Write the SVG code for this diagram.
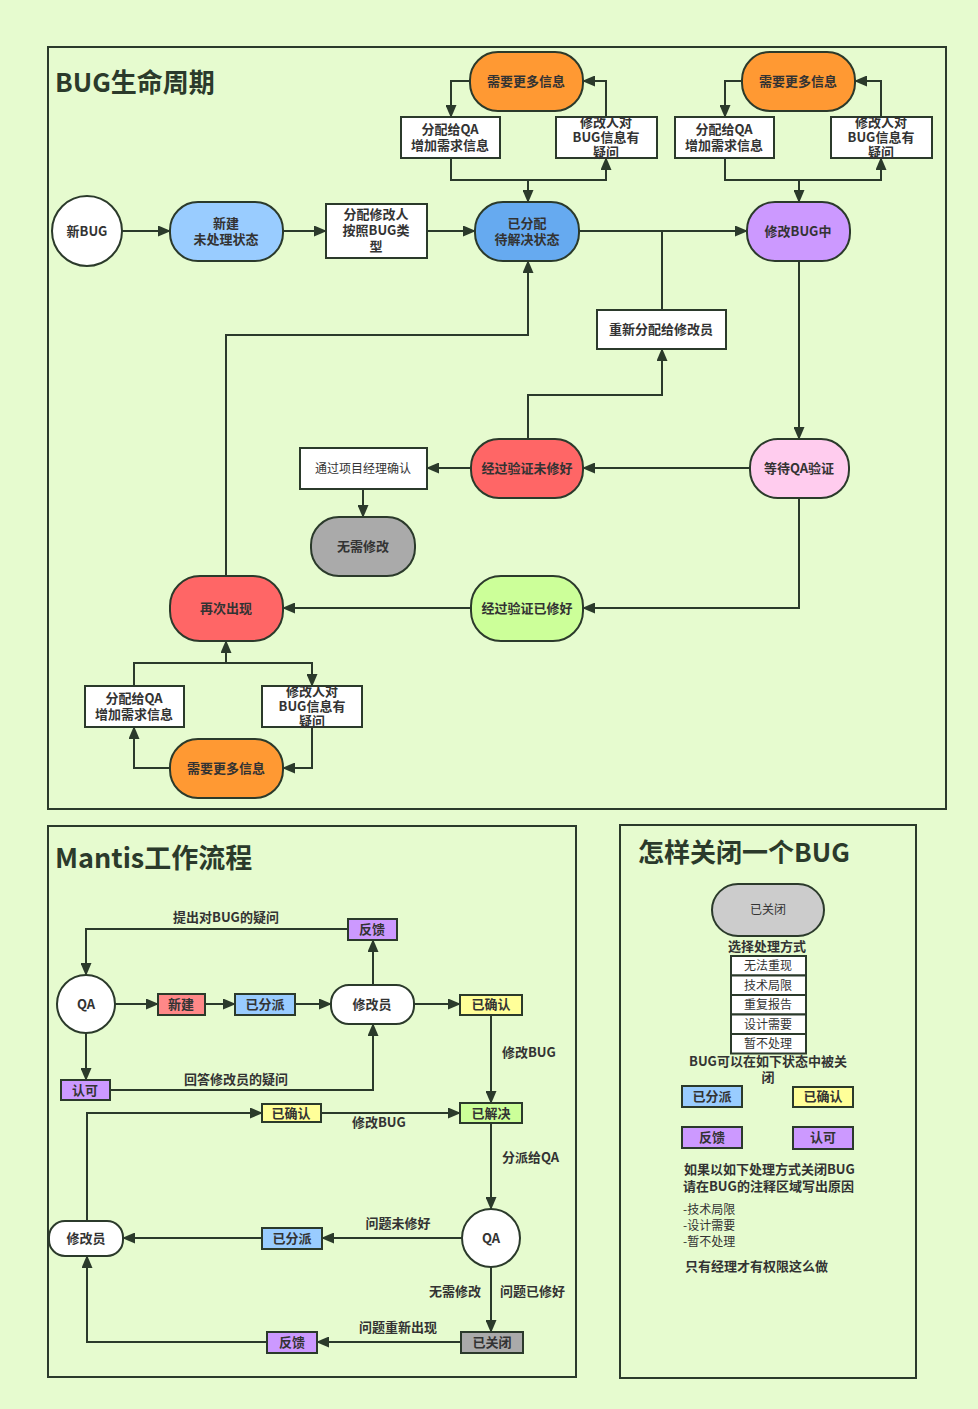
<svg xmlns="http://www.w3.org/2000/svg" width="978" height="1409" viewBox="0 0 978 1409">
<defs>
<marker id="ah" markerUnits="userSpaceOnUse" markerWidth="13" markerHeight="11" refX="12" refY="5.5" orient="auto">
<path d="M0,0 L13,5.5 L0,11 z" fill="#2b3a2b"/>
</marker>
<style>
text{font-family:"Noto Sans CJK SC","Noto Sans",sans-serif;fill:#333;}
.t{font-size:13px;font-weight:bold;text-anchor:middle;}
.n{font-size:12px;text-anchor:middle;}
.title{font-size:26px;font-weight:bold;fill:#2b3a2b;}
.frame{fill:none;stroke:#2b3a2b;stroke-width:2;}
.nd{stroke:#2b3a2b;stroke-width:2;}
.c{fill:none;stroke:#2b3a2b;stroke-width:2;}
.ca{fill:none;stroke:#2b3a2b;stroke-width:2;marker-end:url(#ah);}
.lbl{font-size:13px;font-weight:bold;}
</style>
</defs>
<rect width="978" height="1409" fill="#e6fbcf"/>
<rect class="frame" x="48" y="47" width="898" height="762"/>
<rect class="frame" x="48" y="826" width="528" height="551"/>
<rect class="frame" x="620" y="825" width="296" height="553"/>
<text class="title" x="55" y="92">BUG生命周期</text>
<text class="title" x="55" y="868" style="font-size:27px">Mantis工作流程</text>
<text class="title" x="638" y="862">怎样关闭一个BUG</text>

<g id="connectors">
<line class="ca" x1="122" y1="231" x2="170" y2="231"/>
<line class="ca" x1="283" y1="231" x2="326" y2="231"/>
<line class="ca" x1="427" y1="231" x2="475" y2="231"/>
<line class="ca" x1="579" y1="231" x2="747" y2="231"/>
<line class="c" x1="662" y1="310" x2="662" y2="231"/>
<line class="ca" x1="799" y1="261" x2="799" y2="439"/>
<line class="ca" x1="750" y1="468" x2="583" y2="468"/>
<polyline class="ca" points="528,439 528,395 662,395 662,349"/>
<line class="ca" x1="471" y1="468" x2="427" y2="468"/>
<line class="ca" x1="363" y1="489" x2="363" y2="517"/>
<polyline class="ca" points="799,498 799,608 583,608"/>
<line class="ca" x1="471" y1="608" x2="283" y2="608"/>
<polyline class="ca" points="226,576 226,335 528,335 528,261"/>
<polyline class="ca" points="470,81 451,81 451,117"/>
<polyline class="ca" points="451,158 451,180 528,180 528,202"/>
<polyline class="ca" points="528,202 528,180 606,180 606,158"/>
<polyline class="ca" points="606,117 606,81 583,81"/>
<polyline class="ca" points="742,81 725,81 725,117"/>
<polyline class="ca" points="725,158 725,180 799,180 799,202"/>
<polyline class="ca" points="799,202 799,180 881,180 881,158"/>
<polyline class="ca" points="881,117 881,81 855,81"/>
<polyline class="ca" points="134,686 134,663 226,663 226,641"/>
<polyline class="ca" points="226,641 226,663 312,663 312,686"/>
<polyline class="ca" points="312,727 312,768 283,768"/>
<polyline class="ca" points="170,768 134,768 134,727"/>

<line class="ca" x1="115" y1="1004" x2="158" y2="1004"/>
<line class="ca" x1="205" y1="1004" x2="235" y2="1004"/>
<line class="ca" x1="295" y1="1004" x2="331" y2="1004"/>
<line class="ca" x1="414" y1="1004" x2="460" y2="1004"/>
<line class="ca" x1="373" y1="985" x2="373" y2="940"/>
<polyline class="ca" points="348,929 86,929 86,975"/>
<line class="ca" x1="86" y1="1033" x2="86" y2="1080"/>
<polyline class="ca" points="110,1090 373,1090 373,1024"/>
<line class="ca" x1="491" y1="1015" x2="491" y2="1103"/>
<polyline class="ca" points="87,1221 87,1113 262,1113"/>
<line class="ca" x1="321" y1="1113" x2="460" y2="1113"/>
<line class="ca" x1="491" y1="1123" x2="491" y2="1209"/>
<line class="ca" x1="462" y1="1238" x2="322" y2="1238"/>
<line class="ca" x1="262" y1="1238" x2="123" y2="1238"/>
<line class="ca" x1="491" y1="1267" x2="491" y2="1332"/>
<line class="ca" x1="461" y1="1342" x2="317" y2="1342"/>
<polyline class="ca" points="267,1342 87,1342 87,1256"/>
</g>

<g id="newbug"><circle class="nd" cx="87" cy="231" r="35" fill="#fff"/><text class="t" x="87" y="236">新BUG</text></g>
<g id="xinjian"><rect class="nd" x="170" y="202" width="113" height="59" rx="28" fill="#99ccff"/><text class="t" x="226" y="228">新建</text><text class="t" x="226" y="244">未处理状态</text></g>
<g id="fenpei"><rect class="nd" x="326" y="204" width="101" height="54" fill="#fff"/><text class="t" x="376" y="219">分配修改人</text><text class="t" x="376" y="235">按照BUG类</text><text class="t" x="376" y="251">型</text></g>
<g id="yifenpei"><rect class="nd" x="475" y="202" width="104" height="59" rx="28" fill="#66aaf0"/><text class="t" x="527" y="228">已分配</text><text class="t" x="527" y="244">待解决状态</text></g>
<g id="xiugaibug"><rect class="nd" x="747" y="202" width="103" height="59" rx="28" fill="#cc99ff"/><text class="t" x="798" y="236">修改BUG中</text></g>
<g id="more1"><rect class="nd" x="470" y="52" width="113" height="59" rx="28" fill="#ff9933"/><text class="t" x="526" y="86">需要更多信息</text></g>
<g id="qa1"><rect class="nd" x="401" y="117" width="99" height="41" fill="#fff"/><text class="t" x="450" y="134">分配给QA</text><text class="t" x="450" y="150">增加需求信息</text></g>
<g id="q1"><rect class="nd" x="556" y="117" width="101" height="41" fill="#fff"/><text class="t" x="606" y="127">修改人对</text><text class="t" x="606" y="142">BUG信息有</text><text class="t" x="606" y="157">疑问</text></g>
<g id="more2"><rect class="nd" x="742" y="52" width="113" height="59" rx="28" fill="#ff9933"/><text class="t" x="798" y="86">需要更多信息</text></g>
<g id="qa2"><rect class="nd" x="675" y="117" width="99" height="41" fill="#fff"/><text class="t" x="724" y="134">分配给QA</text><text class="t" x="724" y="150">增加需求信息</text></g>
<g id="q2"><rect class="nd" x="831" y="117" width="101" height="41" fill="#fff"/><text class="t" x="881" y="127">修改人对</text><text class="t" x="881" y="142">BUG信息有</text><text class="t" x="881" y="157">疑问</text></g>
<g id="chongxin"><rect class="nd" x="597" y="310" width="129" height="39" fill="#fff"/><text class="t" x="661" y="334">重新分配给修改员</text></g>
<g id="dengdai"><rect class="nd" x="750" y="439" width="99" height="59" rx="28" fill="#ffccee"/><text class="t" x="799" y="473">等待QA验证</text></g>
<g id="weixiu"><rect class="nd" x="471" y="439" width="112" height="59" rx="28" fill="#ff6666"/><text class="t" x="527" y="473">经过验证未修好</text></g>
<g id="jingli"><rect class="nd" x="300" y="448" width="127" height="41" fill="#fff"/><text class="n" x="363" y="473">通过项目经理确认</text></g>
<g id="wuxu"><rect class="nd" x="311" y="517" width="104" height="59" rx="28" fill="#aaaaaa"/><text class="t" x="363" y="551">无需修改</text></g>
<g id="zaici"><rect class="nd" x="170" y="576" width="113" height="65" rx="30" fill="#ff6666"/><text class="t" x="226" y="613">再次出现</text></g>
<g id="yixiu"><rect class="nd" x="471" y="576" width="112" height="65" rx="30" fill="#ccff99"/><text class="t" x="527" y="613">经过验证已修好</text></g>
<g id="qa3"><rect class="nd" x="85" y="686" width="99" height="41" fill="#fff"/><text class="t" x="134" y="703">分配给QA</text><text class="t" x="134" y="719">增加需求信息</text></g>
<g id="q3"><rect class="nd" x="262" y="686" width="100" height="41" fill="#fff"/><text class="t" x="312" y="696">修改人对</text><text class="t" x="312" y="711">BUG信息有</text><text class="t" x="312" y="726">疑问</text></g>
<g id="more3"><rect class="nd" x="170" y="739" width="113" height="59" rx="28" fill="#ff9933"/><text class="t" x="226" y="773">需要更多信息</text></g>

<g id="m-qa"><circle class="nd" cx="86" cy="1004" r="29" fill="#fff"/><text class="t" x="86" y="1009">QA</text></g>
<g id="m-new"><rect class="nd" x="158" y="994" width="47" height="21" fill="#ff8888"/><text class="t" x="181" y="1009">新建</text></g>
<g id="m-assigned"><rect class="nd" x="235" y="994" width="60" height="21" fill="#99ccff"/><text class="t" x="265" y="1009">已分派</text></g>
<g id="m-dev"><rect class="nd" x="331" y="985" width="83" height="39" rx="18" fill="#fff"/><text class="t" x="372" y="1009">修改员</text></g>
<g id="m-confirmed"><rect class="nd" x="460" y="995" width="62" height="20" fill="#ffff99"/><text class="t" x="491" y="1009">已确认</text></g>
<g id="m-feedback"><rect class="nd" x="348" y="919" width="49" height="21" fill="#cc99ff"/><text class="t" x="372" y="934">反馈</text></g>
<g id="m-ack"><rect class="nd" x="61" y="1080" width="49" height="20" fill="#cc99ff"/><text class="t" x="85" y="1095">认可</text></g>
<g id="m-confirmed2"><rect class="nd" x="262" y="1104" width="59" height="18" fill="#ffff99"/><text class="t" x="291" y="1118">已确认</text></g>
<g id="m-resolved"><rect class="nd" x="460" y="1103" width="62" height="20" fill="#ccff99"/><text class="t" x="491" y="1118">已解决</text></g>
<g id="m-qa2"><circle class="nd" cx="491" cy="1238" r="29" fill="#fff"/><text class="t" x="491" y="1243">QA</text></g>
<g id="m-dev2"><rect class="nd" x="49" y="1221" width="74" height="35" rx="16" fill="#fff"/><text class="t" x="86" y="1243">修改员</text></g>
<g id="m-assigned2"><rect class="nd" x="262" y="1228" width="60" height="21" fill="#99ccff"/><text class="t" x="292" y="1243">已分派</text></g>
<g id="m-closed"><rect class="nd" x="461" y="1332" width="62" height="21" fill="#aaaaaa"/><text class="t" x="492" y="1347">已关闭</text></g>
<g id="m-feedback2"><rect class="nd" x="267" y="1332" width="50" height="21" fill="#cc99ff"/><text class="t" x="292" y="1347">反馈</text></g>
<g id="m-labels">
<text class="lbl" x="226" y="922" text-anchor="middle">提出对BUG的疑问</text>
<text class="lbl" x="236" y="1084" text-anchor="middle">回答修改员的疑问</text>
<text class="lbl" x="502" y="1057">修改BUG</text>
<text class="lbl" x="352" y="1127">修改BUG</text>
<text class="lbl" x="502" y="1162">分派给QA</text>
<text class="lbl" x="398" y="1228" text-anchor="middle">问题未修好</text>
<text class="lbl" x="481" y="1296" text-anchor="end">无需修改</text>
<text class="lbl" x="500" y="1296">问题已修好</text>
<text class="lbl" x="398" y="1332" text-anchor="middle">问题重新出现</text>
</g>

<g id="c-closed"><rect class="nd" x="712" y="884" width="112" height="52" rx="26" fill="#cccccc"/><text class="n" x="768" y="914">已关闭</text></g>
<g id="c-choose"><text class="t" x="767" y="951">选择处理方式</text></g>
<g id="c-list">
<rect class="nd" x="731" y="956" width="75" height="19.5" fill="#fff"/><text class="n" x="768" y="970">无法重现</text>
<rect class="nd" x="731" y="975.5" width="75" height="19.5" fill="#fff"/><text class="n" x="768" y="990">技术局限</text>
<rect class="nd" x="731" y="995" width="75" height="19.5" fill="#fff"/><text class="n" x="768" y="1009">重复报告</text>
<rect class="nd" x="731" y="1014.5" width="75" height="19.5" fill="#fff"/><text class="n" x="768" y="1029">设计需要</text>
<rect class="nd" x="731" y="1034" width="75" height="19.5" fill="#fff"/><text class="n" x="768" y="1048">暂不处理</text>
</g>
<g id="c-states-label"><text class="t" x="768" y="1066">BUG可以在如下状态中被关</text><text class="t" x="768" y="1082">闭</text></g>
<g id="c-assigned"><rect class="nd" x="682" y="1086" width="60" height="21" fill="#99ccff"/><text class="t" x="712" y="1101">已分派</text></g>
<g id="c-confirmed"><rect class="nd" x="793" y="1087" width="60" height="20" fill="#ffff99"/><text class="t" x="823" y="1101">已确认</text></g>
<g id="c-feedback"><rect class="nd" x="682" y="1127" width="60" height="21" fill="#cc99ff"/><text class="t" x="712" y="1142">反馈</text></g>
<g id="c-ack"><rect class="nd" x="793" y="1127" width="60" height="22" fill="#cc99ff"/><text class="t" x="823" y="1142">认可</text></g>
<g id="c-notes">
<text class="lbl" x="684" y="1174">如果以如下处理方式关闭BUG</text>
<text class="lbl" x="683" y="1191">请在BUG的注释区域写出原因</text>
<text x="683" y="1214" style="font-size:12px">-技术局限</text>
<text x="683" y="1230" style="font-size:12px">-设计需要</text>
<text x="683" y="1246" style="font-size:12px">-暂不处理</text>
<text class="lbl" x="685" y="1271">只有经理才有权限这么做</text>
</g>
</svg>
